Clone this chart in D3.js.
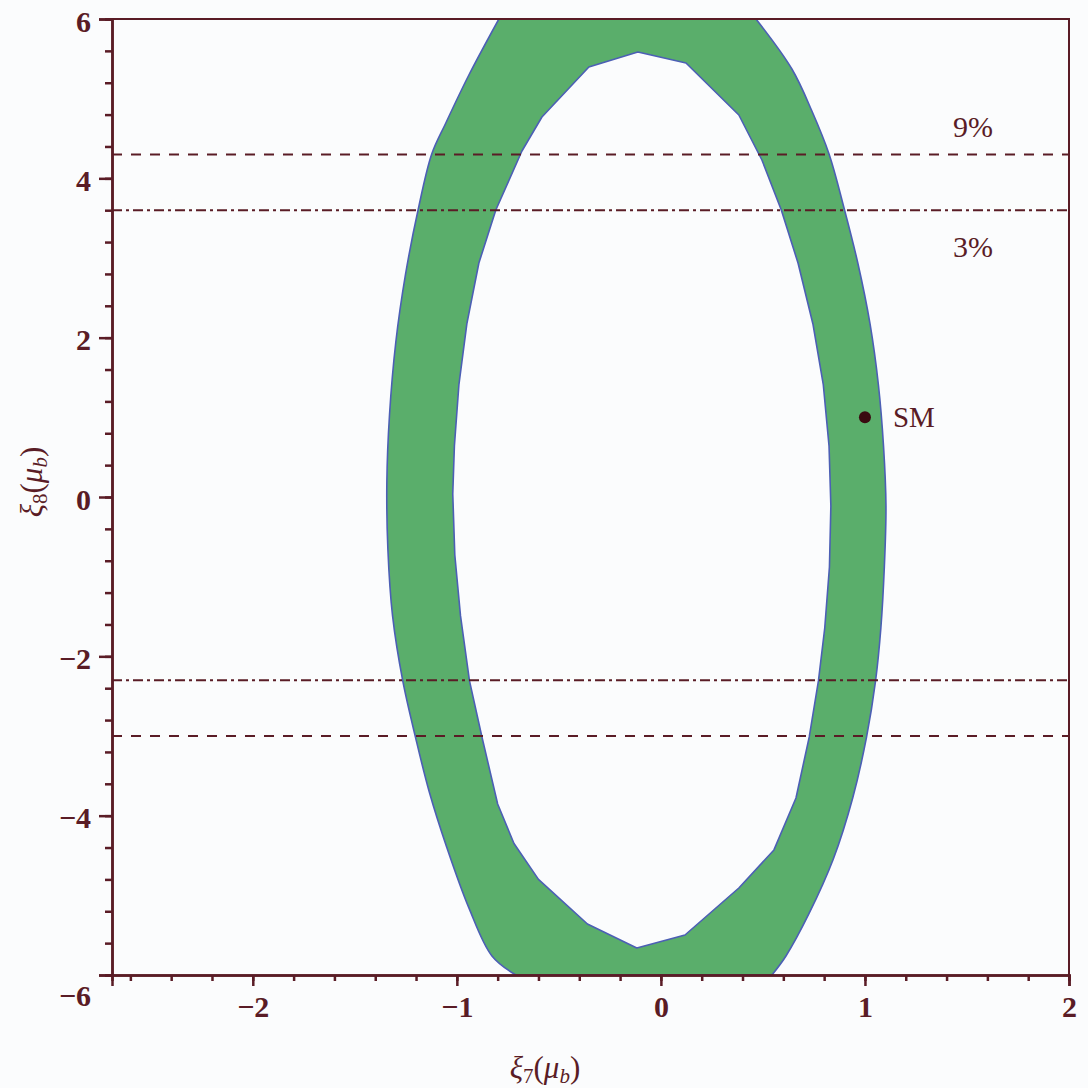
<!DOCTYPE html>
<html>
<head>
<meta charset="utf-8">
<script src="https://cdn.jsdelivr.net/npm/d3@7"></script>
<style>
  html, body { margin: 0; padding: 0; background: #fbfcfd; }
  svg { display: block; }
  svg text { font-family: 'Liberation Serif', 'Times New Roman', Times, serif; }
</style>
</head>
<body>
<div id="chart"></div>
<script>
// allowed region boundaries (xi7, xi8)
const outerRight = [
  [0.466, 6], [0.642, 5.372], [0.740, 4.845], [0.824, 4.306],
  [0.900, 3.603], [0.965, 2.937], [1.025, 2.172], [1.066, 1.406], [1.091, 0.640],
  [1.103, -0.113], [1.095, -0.878], [1.078, -1.644], [1.052, -2.309], [1.008, -3.012],
  [0.940, -3.778], [0.845, -4.544], [0.725, -5.234], [0.613, -5.761], [0.544, -6]
];
const outerLeft = [
  [-0.711, -6], [-0.828, -5.761], [-0.941, -5.158], [-1.050, -4.393], [-1.135, -3.703],
  [-1.203, -3.012], [-1.265, -2.309], [-1.315, -1.493], [-1.338, -0.652], [-1.343, 0.189],
  [-1.330, 1.030], [-1.299, 1.946], [-1.252, 2.787], [-1.190, 3.603], [-1.123, 4.306],
  [-1.054, 4.695], [-0.941, 5.297], [-0.794, 6]
];
const innerBoundary = [
  [-0.113, 5.586], [0.123, 5.448], [0.382, 4.795], [0.495, 4.230], [0.590, 3.603],
  [0.672, 2.937], [0.745, 2.172], [0.796, 1.406], [0.824, 0.640], [0.833, -0.113],
  [0.826, -0.878], [0.803, -1.644], [0.772, -2.309], [0.727, -3.012], [0.662, -3.778],
  [0.554, -4.430], [0.382, -4.908], [0.118, -5.498], [-0.118, -5.661], [-0.360, -5.360],
  [-0.600, -4.800], [-0.720, -4.350], [-0.800, -3.853], [-0.877, -3.012], [-0.938, -2.309],
  [-0.982, -1.493], [-1.010, -0.728], [-1.020, 0.038], [-1.012, 0.640], [-0.990, 1.406],
  [-0.951, 2.172], [-0.892, 2.937], [-0.809, 3.603], [-0.681, 4.343], [-0.583, 4.770],
  [-0.353, 5.398]
];
const dashedLevels = [4.3, -3.0];
const dashDotLevels = [3.6, -2.3];
const levelLabels = [{ text: '9%', y: 4.65 }, { text: '3%', y: 3.15 }];
const smPoint = [1, 1];
const xMajorTicks = [-2, -1, 0, 1, 2];
const yMajorTicks = [-6, -4, -2, 0, 2, 4, 6];
const xMinorTicks = d3.range(-26, 21, 2).map(v => v / 10);
const yMinorTicks = d3.range(-30, 31, 2).map(v => v / 5);

const w = 1088, h = 1088;
const m = { left: 112, right: 1069, top: 19, bottom: 975 };
const ink = '#5a1c26';

const svg = d3.select('#chart').append('svg')
  .attr('width', w).attr('height', h);

svg.append('rect').attr('width', w).attr('height', h).attr('fill', '#fbfcfd');

const xScale = d3.scaleLinear().domain([-2.69, 2]).range([m.left, m.right]);
const yScale = d3.scaleLinear().domain([-6, 6]).range([m.bottom, m.top]);

svg.append('defs').append('clipPath').attr('id', 'plot')
  .append('rect').attr('x', m.left).attr('y', m.top)
  .attr('width', m.right - m.left).attr('height', m.bottom - m.top);

const smooth = d3.line().x(d => xScale(d[0])).y(d => yScale(d[1])).curve(d3.curveCatmullRom);
const line = d3.line().x(d => xScale(d[0])).y(d => yScale(d[1]));
const outerPath = smooth(outerRight) + 'L' + smooth(outerLeft).slice(1) + 'Z';
const ring = outerPath + line(innerBoundary) + 'Z';

svg.append('path')
  .attr('clip-path', 'url(#plot)')
  .attr('d', ring)
  .attr('fill', '#5aae6b')
  .attr('fill-rule', 'evenodd')
  .attr('stroke', '#4c5fb5')
  .attr('stroke-width', 1.6)
  .attr('stroke-linejoin', 'round');

// horizontal level lines
svg.selectAll('line.dashed')
  .data(dashedLevels)
  .enter().append('line')
  .attr('class', 'dashed')
  .attr('x1', m.left).attr('x2', m.right)
  .attr('y1', d => yScale(d)).attr('y2', d => yScale(d))
  .attr('stroke', ink).attr('stroke-width', 2)
  .attr('stroke-dasharray', '10,9');

svg.selectAll('line.dashdot')
  .data(dashDotLevels)
  .enter().append('line')
  .attr('class', 'dashdot')
  .attr('x1', m.left).attr('x2', m.right)
  .attr('y1', d => yScale(d)).attr('y2', d => yScale(d))
  .attr('stroke', ink).attr('stroke-width', 2)
  .attr('stroke-dasharray', '10,4,3,4');

svg.selectAll('text.level')
  .data(levelLabels)
  .enter().append('text')
  .attr('class', 'level')
  .attr('x', xScale(1.53))
  .attr('y', d => yScale(d.y))
  .attr('dy', '0.35em')
  .attr('text-anchor', 'middle')
  .attr('font-size', 30)
  .attr('fill', ink)
  .text(d => d.text);

// SM point
svg.append('circle')
  .attr('cx', xScale(smPoint[0])).attr('cy', yScale(smPoint[1]))
  .attr('r', 6).attr('fill', '#3a0a10');
svg.append('text')
  .attr('x', xScale(smPoint[0]) + 28).attr('y', yScale(smPoint[1]))
  .attr('dy', '0.35em')
  .attr('font-size', 29)
  .attr('fill', ink).text('SM');

// frame top/right
svg.append('path')
  .attr('d', `M${m.left},${m.top}H${m.right}V${m.bottom}`)
  .attr('fill', 'none').attr('stroke', ink).attr('stroke-width', 2);

// axes
const fmt = d3.format('d');
const xMinor = d3.axisBottom(xScale).tickValues(xMinorTicks).tickSize(6).tickFormat('');
const xMajor = d3.axisBottom(xScale).tickValues(xMajorTicks).tickSize(11).tickPadding(10).tickFormat(fmt);
const yMinor = d3.axisLeft(yScale).tickValues(yMinorTicks).tickSize(7).tickFormat('');
const yMajor = d3.axisLeft(yScale).tickValues(yMajorTicks).tickSize(13).tickPadding(8).tickFormat(fmt);

function styleAxis(g) {
  g.attr('font-family', null);
  g.select('.domain').attr('stroke', ink).attr('stroke-width', 2.5);
  g.selectAll('.tick line').attr('stroke', ink).attr('stroke-width', 2.5);
  g.selectAll('.tick text')
    .attr('fill', ink)
    .attr('font-weight', 'bold')
    .attr('font-size', 30);
}

svg.append('g').attr('transform', `translate(0,${m.bottom})`).call(xMinor).call(styleAxis);
svg.append('g').attr('transform', `translate(0,${m.bottom})`).call(xMajor).call(styleAxis);
svg.append('g').attr('transform', `translate(${m.left},0)`).call(yMinor).call(styleAxis);
const yAx = svg.append('g').attr('transform', `translate(${m.left},0)`).call(yMajor).call(styleAxis);
yAx.selectAll('.tick text').attr('dy', d => d === -6 ? '1.0em' : '0.4em');

// axis titles
const xTitle = svg.append('text')
  .attr('x', 545).attr('y', 1078)
  .attr('text-anchor', 'middle')
  .attr('font-size', 31)
  .attr('fill', ink);
xTitle.append('tspan').attr('font-style', 'italic').text('ξ');
xTitle.append('tspan').attr('font-size', 21).attr('dy', 5).text('7');
xTitle.append('tspan').attr('dy', -5).text('(');
xTitle.append('tspan').attr('font-style', 'italic').text('μ');
xTitle.append('tspan').attr('font-style', 'italic').attr('font-size', 21).attr('dy', 5).text('b');
xTitle.append('tspan').attr('dy', -5).text(')');

const yTitle = svg.append('text')
  .attr('transform', 'translate(42,482) rotate(-90)')
  .attr('text-anchor', 'middle')
  .attr('font-size', 31)
  .attr('fill', ink);
yTitle.append('tspan').attr('font-style', 'italic').text('ξ');
yTitle.append('tspan').attr('font-size', 21).attr('dy', 5).text('8');
yTitle.append('tspan').attr('dy', -5).text('(');
yTitle.append('tspan').attr('font-style', 'italic').text('μ');
yTitle.append('tspan').attr('font-style', 'italic').attr('font-size', 21).attr('dy', 5).text('b');
yTitle.append('tspan').attr('dy', -5).text(')');
</script>
</body>
</html>
